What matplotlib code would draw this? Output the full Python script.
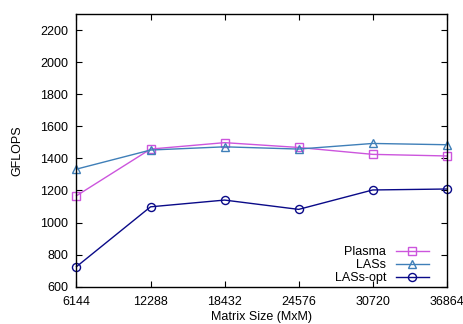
import matplotlib
matplotlib.use("Agg")
import matplotlib.pyplot as plt

sizes = [6144, 12288, 18432, 24576, 30720, 36864]
plasma = [1167, 1458, 1498, 1468, 1425, 1415]
lass = [1333, 1452, 1472, 1458, 1493, 1485]
lass_opt = [725, 1098, 1140, 1082, 1203, 1209]
yticks = [600, 800, 1000, 1200, 1400, 1600, 1800, 2000, 2200]

plt.rcParams['font.family'] = ['Liberation Sans', 'DejaVu Sans']
plt.rcParams['font.size'] = 9

fig = plt.figure(figsize=(4.64, 3.24), dpi=100)
ax = fig.add_axes([76.5/464, 1 - 286.7/324, (446.7-76.5)/464, (286.7-14)/324])

ax.plot(sizes, plasma, color='#cc55dd', marker='s', markersize=5.8, mfc='none', mew=1.0, lw=1.0, label='Plasma', clip_on=False)
ax.plot(sizes, lass, color='#3f7fb8', marker='^', markersize=5.8, mfc='none', mew=1.0, lw=1.0, label='LASs', clip_on=False)
ax.plot(sizes, lass_opt, color='#0a0a88', marker='o', markersize=5.8, mfc='none', mew=1.0, lw=1.0, label='LASs-opt', clip_on=False)

ax.set_xlim(6144, 36864)
ax.set_ylim(600, 2300)
ax.set_xticks(sizes)
ax.set_yticks(yticks)
ax.tick_params(direction='in', top=True, right=True, length=4, width=0.8, colors='black')
ax.tick_params(axis='x', pad=7)
ax.tick_params(axis='y', pad=6)
for s in ax.spines.values():
    s.set_linewidth(1.0)

ax.set_xlabel('Matrix Size (MxM)', labelpad=2)
ax.set_ylabel('GFLOPS', labelpad=12)

leg = ax.legend(loc='lower right', frameon=False, markerfirst=False, handlelength=2.6,
                handletextpad=0.8, labelspacing=0.1, borderaxespad=0.0,
                bbox_to_anchor=(0.965, -0.01), fontsize=9)

fig.savefig('out.png', dpi=100)
